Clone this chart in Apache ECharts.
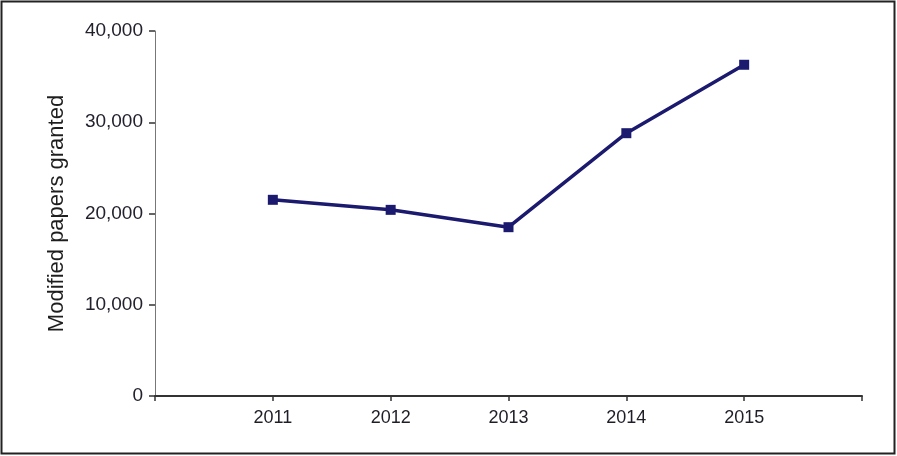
<!DOCTYPE html>
<html><head><meta charset="utf-8">
<script src="https://cdn.jsdelivr.net/npm/echarts@6/dist/echarts.min.js"></script>
<style>html,body{margin:0;padding:0;background:#fff}#c{width:897px;height:456px}</style>
</head><body><div id="c"></div>
<script>
var categories = ['', '2011', '2012', '2013', '2014', '2015', ''];
var values = [null, 21500, 20400, 18500, 28800, 36300, null];
var yTicks = [0, 10000, 20000, 30000, 40000];

var chart = echarts.init(document.getElementById('c'), null, {renderer: 'canvas'});
chart.setOption({
  animation: false,
  backgroundColor: '#fff',
  graphic: [{
    type: 'rect', shape: {x: 1.5, y: 1.5, width: 893, height: 452},
    style: {fill: 'none', stroke: '#222', lineWidth: 2}, silent: true
  }],
  grid: {left: 155, right: 35, top: 31, bottom: 60, containLabel: false},
  xAxis: {
    type: 'category', data: categories, boundaryGap: false,
    axisLine: {lineStyle: {color: '#333', width: 2}},
    axisTick: {show: true, length: 5, lineStyle: {color: '#333', width: 1.5}},
    axisLabel: {color: '#1e1e28', fontFamily: 'Liberation Sans, Arial', fontSize: 18, margin: 13},
    splitLine: {show: false}
  },
  yAxis: {
    type: 'value', min: yTicks[0], max: yTicks[yTicks.length - 1], interval: 10000,
    name: 'Modified papers granted', nameLocation: 'middle', nameGap: 87, nameRotate: 90,
    nameTextStyle: {color: '#1e1e1e', fontFamily: 'Liberation Sans, Arial', fontSize: 22},
    axisLine: {show: true, lineStyle: {color: '#777', width: 1}},
    axisTick: {show: true, length: 6, lineStyle: {color: '#333', width: 1.5}},
    axisLabel: {color: '#22222e', fontFamily: 'Liberation Sans, Arial', fontSize: 19, margin: 12,
      formatter: function (v) { return v.toLocaleString('en-US'); }},
    splitLine: {show: false}
  },
  series: [{
    type: 'line', data: values, connectNulls: false,
    lineStyle: {color: '#1b1a6e', width: 3.5},
    itemStyle: {color: '#1b1a6e'},
    symbol: 'rect', symbolSize: 10, showSymbol: true
  }]
});
</script></body></html>
